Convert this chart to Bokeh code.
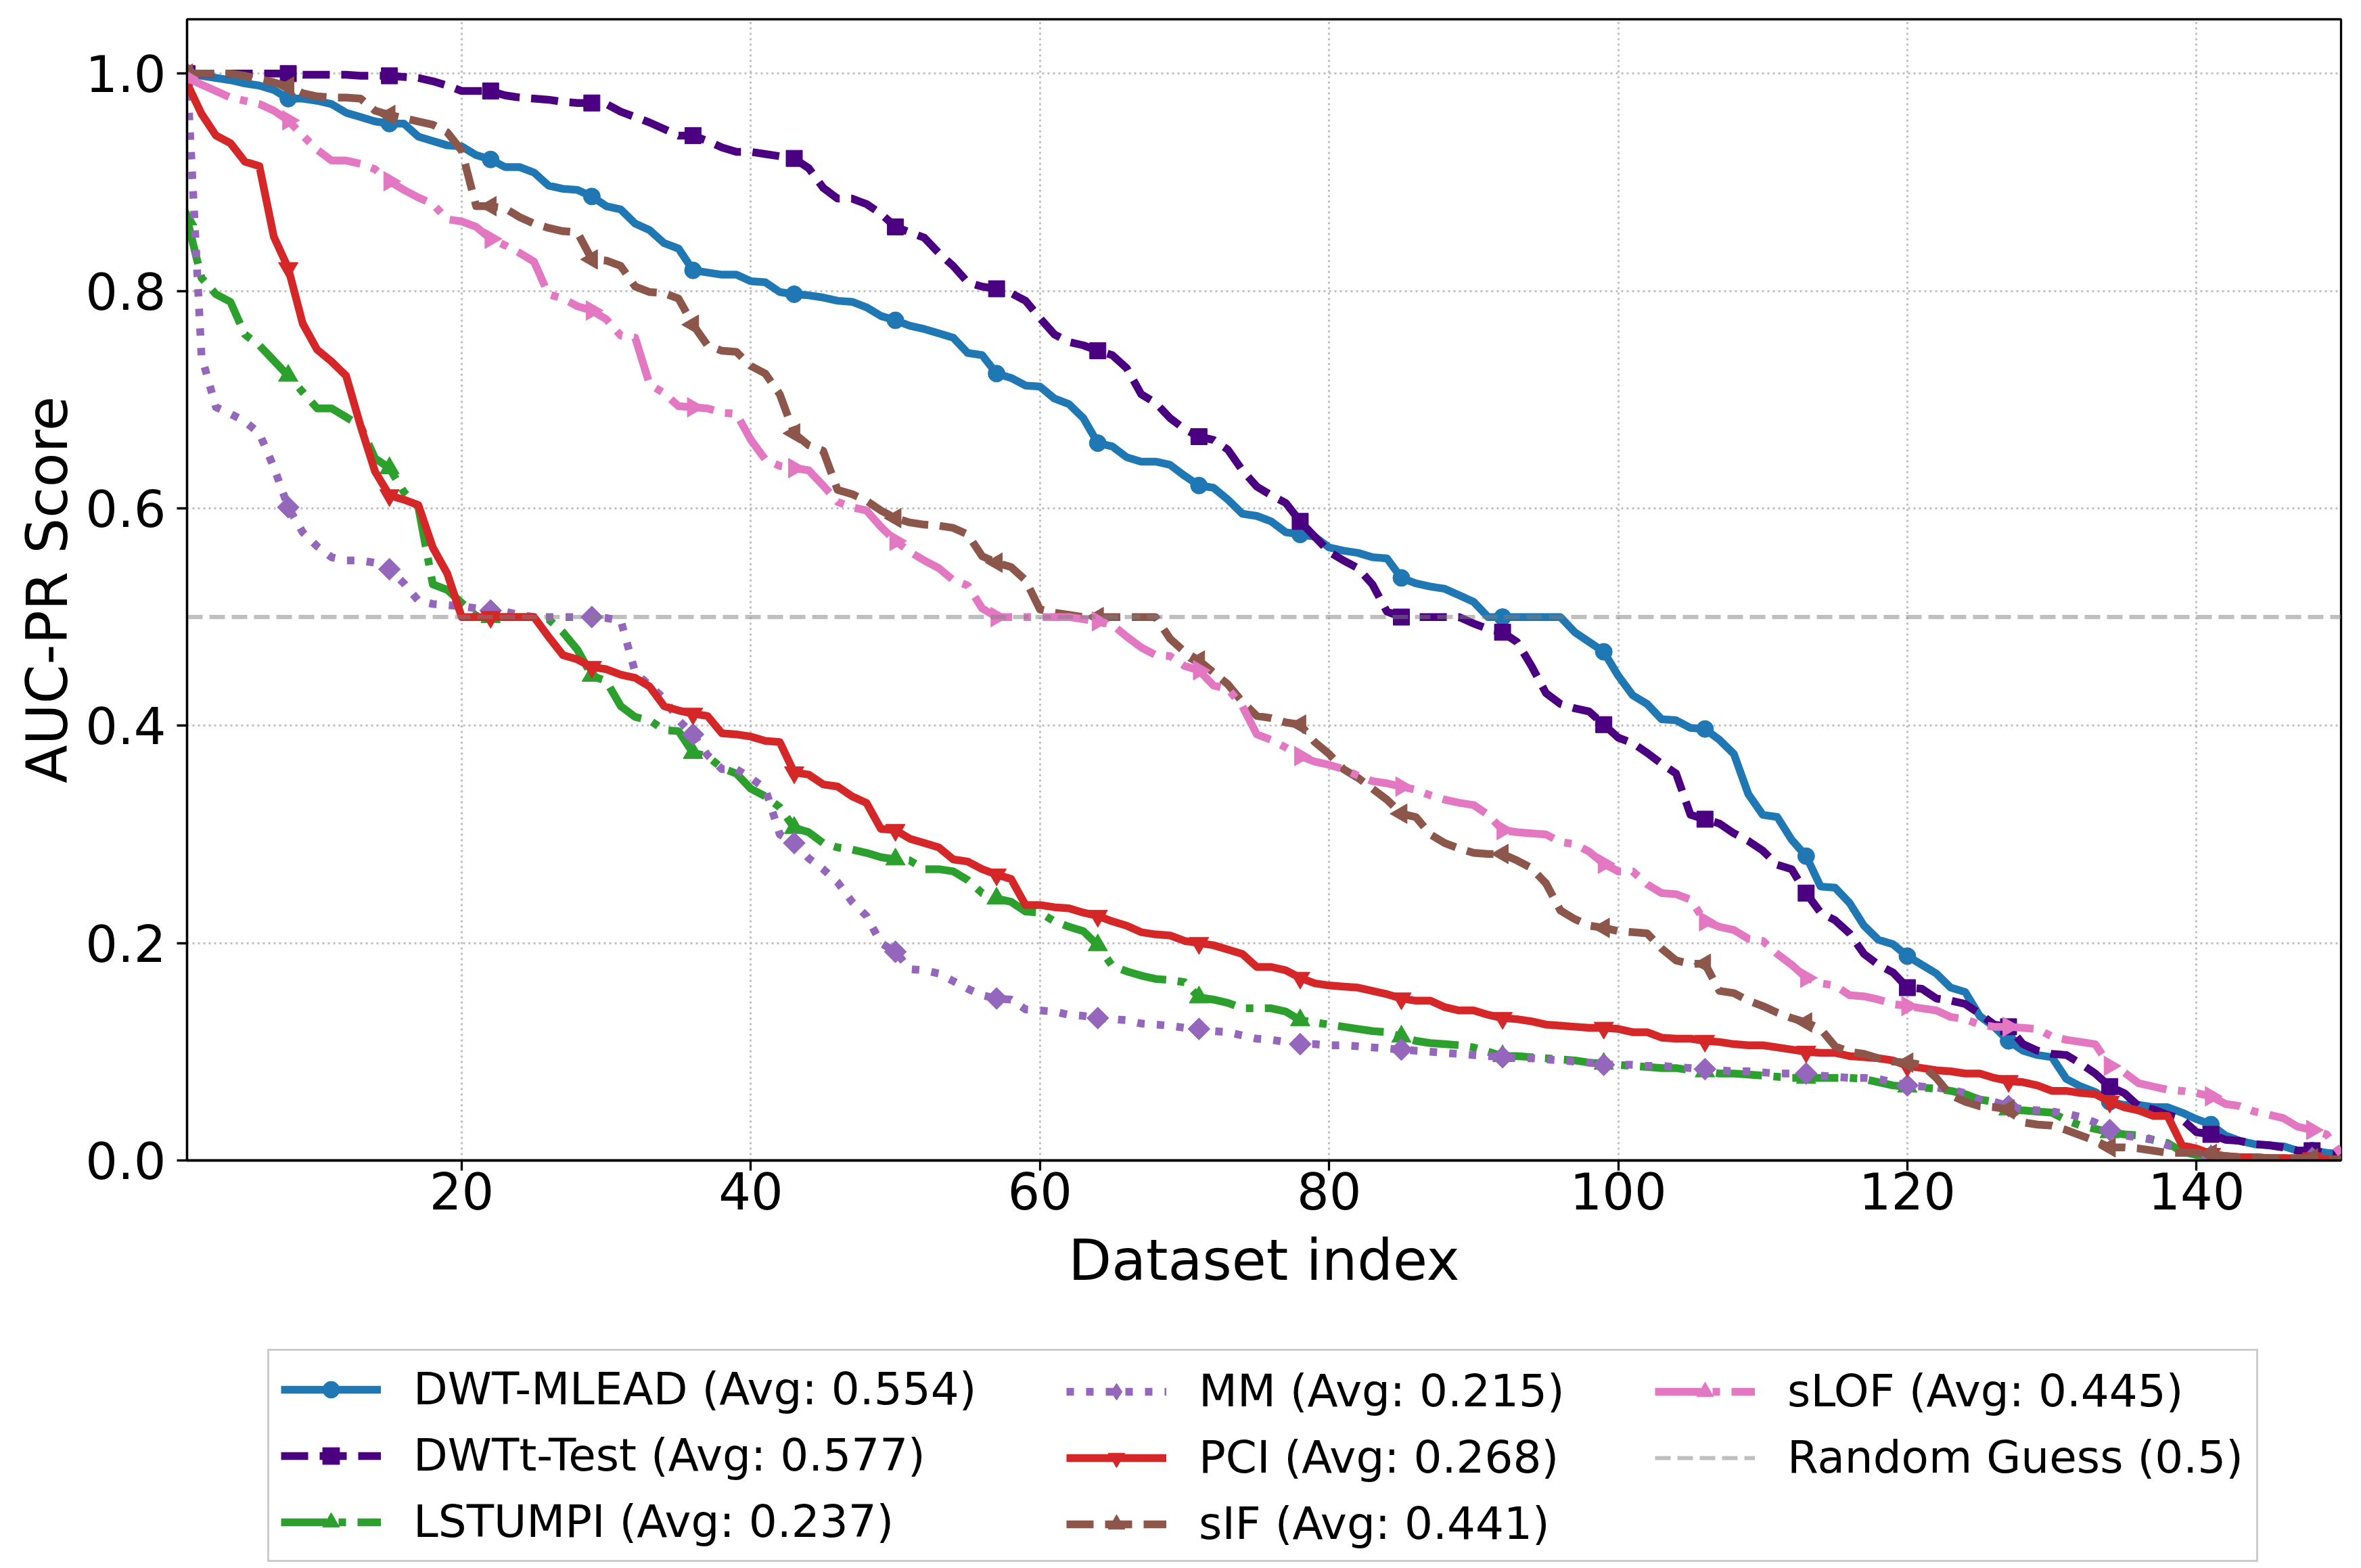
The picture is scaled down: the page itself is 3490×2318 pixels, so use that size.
import math
from bokeh.plotting import figure
from bokeh.layouts import column
from bokeh.models import Range1d, FixedTicker, Legend, LegendItem, NumeralTickFormatter
from bokeh.embed import file_html
from bokeh.resources import INLINE

# ---------------- data ----------------
dataset_index = list(range(1, 151))

dwt_mlead = [
    1.000, 0.998, 0.996, 0.994, 0.991, 0.989, 0.985, 0.977, 0.977, 0.975,
    0.972, 0.964, 0.960, 0.956, 0.954, 0.954, 0.942, 0.938, 0.934, 0.933,
    0.925, 0.921, 0.914, 0.914, 0.909, 0.897, 0.894, 0.893, 0.887, 0.878,
    0.875, 0.862, 0.856, 0.844, 0.839, 0.819, 0.817, 0.815, 0.815, 0.809,
    0.808, 0.799, 0.797, 0.796, 0.794, 0.791, 0.790, 0.785, 0.777, 0.773,
    0.768, 0.765, 0.761, 0.757, 0.743, 0.741, 0.724, 0.720, 0.713, 0.712,
    0.701, 0.696, 0.683, 0.660, 0.657, 0.647, 0.643, 0.643, 0.640, 0.630,
    0.621, 0.619, 0.608, 0.595, 0.593, 0.588, 0.578, 0.576, 0.574, 0.564,
    0.561, 0.559, 0.555, 0.554, 0.536, 0.531, 0.528, 0.526, 0.520, 0.514,
    0.500, 0.500, 0.500, 0.500, 0.500, 0.500, 0.486, 0.477, 0.468, 0.446,
    0.428, 0.420, 0.406, 0.405, 0.398, 0.397, 0.387, 0.374, 0.337, 0.318,
    0.316, 0.295, 0.280, 0.252, 0.251, 0.237, 0.216, 0.203, 0.199, 0.188,
    0.180, 0.172, 0.159, 0.155, 0.133, 0.123, 0.110, 0.101, 0.097, 0.095,
    0.075, 0.068, 0.063, 0.054, 0.051, 0.051, 0.049, 0.049, 0.044, 0.038,
    0.033, 0.023, 0.018, 0.015, 0.014, 0.013, 0.009, 0.009, 0.007, 0.006,
]

dwtt_test = [
    1.000, 1.000, 1.000, 1.000, 1.000, 1.000, 1.000, 1.000, 0.999, 0.999,
    0.999, 0.999, 0.998, 0.998, 0.998, 0.997, 0.996, 0.993, 0.989, 0.984,
    0.984, 0.984, 0.980, 0.978, 0.977, 0.976, 0.974, 0.973, 0.973, 0.972,
    0.965, 0.960, 0.955, 0.949, 0.943, 0.943, 0.938, 0.932, 0.928, 0.928,
    0.926, 0.924, 0.922, 0.913, 0.895, 0.885, 0.885, 0.880, 0.871, 0.859,
    0.854, 0.849, 0.835, 0.823, 0.808, 0.804, 0.802, 0.798, 0.791, 0.775,
    0.760, 0.753, 0.750, 0.745, 0.741, 0.729, 0.705, 0.697, 0.683, 0.673,
    0.666, 0.663, 0.654, 0.635, 0.620, 0.612, 0.605, 0.588, 0.574, 0.560,
    0.552, 0.545, 0.530, 0.505, 0.500, 0.500, 0.500, 0.500, 0.500, 0.494,
    0.489, 0.486, 0.477, 0.455, 0.430, 0.420, 0.416, 0.413, 0.401, 0.389,
    0.384, 0.375, 0.365, 0.356, 0.318, 0.314, 0.310, 0.301, 0.294, 0.285,
    0.272, 0.268, 0.246, 0.228, 0.221, 0.209, 0.190, 0.180, 0.173, 0.159,
    0.158, 0.149, 0.147, 0.144, 0.135, 0.125, 0.123, 0.107, 0.101, 0.098,
    0.097, 0.089, 0.080, 0.068, 0.062, 0.050, 0.047, 0.042, 0.038, 0.026,
    0.024, 0.019, 0.018, 0.015, 0.014, 0.012, 0.009, 0.009, 0.007, 0.006,
]

lstumpi = [
    0.866, 0.812, 0.797, 0.790, 0.760, 0.750, 0.736, 0.722, 0.707, 0.692,
    0.692, 0.684, 0.676, 0.646, 0.637, 0.615, 0.601, 0.530, 0.525, 0.513,
    0.501, 0.500, 0.500, 0.500, 0.500, 0.498, 0.486, 0.470, 0.446, 0.441,
    0.418, 0.408, 0.405, 0.396, 0.395, 0.375, 0.372, 0.361, 0.356, 0.342,
    0.335, 0.325, 0.306, 0.302, 0.292, 0.288, 0.286, 0.283, 0.279, 0.277,
    0.276, 0.268, 0.268, 0.266, 0.258, 0.246, 0.241, 0.238, 0.229, 0.228,
    0.220, 0.215, 0.211, 0.198, 0.179, 0.174, 0.170, 0.167, 0.166, 0.164,
    0.150, 0.148, 0.145, 0.140, 0.140, 0.140, 0.137, 0.129, 0.127, 0.125,
    0.123, 0.121, 0.119, 0.118, 0.114, 0.110, 0.108, 0.107, 0.106, 0.104,
    0.100, 0.096, 0.096, 0.095, 0.094, 0.093, 0.092, 0.090, 0.089, 0.088,
    0.087, 0.086, 0.085, 0.085, 0.083, 0.082, 0.080, 0.080, 0.079, 0.078,
    0.077, 0.076, 0.076, 0.076, 0.076, 0.076, 0.075, 0.072, 0.069, 0.068,
    0.067, 0.066, 0.064, 0.061, 0.056, 0.054, 0.047, 0.046, 0.045, 0.044,
    0.037, 0.032, 0.029, 0.026, 0.024, 0.023, 0.019, 0.016, 0.008, 0.005,
    0.004, 0.003, 0.003, 0.003, 0.002, 0.002, 0.002, 0.002, 0.001, 0.001,
]

mm = [
    1.000, 0.740, 0.693, 0.687, 0.680, 0.669, 0.638, 0.601, 0.578, 0.565,
    0.555, 0.552, 0.552, 0.550, 0.544, 0.531, 0.515, 0.512, 0.511, 0.510,
    0.508, 0.506, 0.505, 0.502, 0.500, 0.500, 0.500, 0.500, 0.500, 0.499,
    0.497, 0.449, 0.437, 0.425, 0.405, 0.392, 0.373, 0.360, 0.360, 0.352,
    0.342, 0.300, 0.292, 0.278, 0.268, 0.256, 0.238, 0.225, 0.200, 0.192,
    0.176, 0.175, 0.172, 0.165, 0.158, 0.152, 0.149, 0.148, 0.139, 0.138,
    0.137, 0.134, 0.133, 0.131, 0.130, 0.129, 0.126, 0.125, 0.124, 0.122,
    0.121, 0.119, 0.118, 0.115, 0.112, 0.111, 0.109, 0.107, 0.107, 0.106,
    0.106, 0.105, 0.104, 0.103, 0.102, 0.101, 0.100, 0.099, 0.098, 0.097,
    0.096, 0.095, 0.094, 0.094, 0.093, 0.092, 0.091, 0.090, 0.088, 0.088,
    0.088, 0.087, 0.087, 0.086, 0.085, 0.084, 0.083, 0.082, 0.082, 0.081,
    0.080, 0.080, 0.080, 0.078, 0.077, 0.076, 0.076, 0.075, 0.072, 0.069,
    0.068, 0.067, 0.065, 0.062, 0.056, 0.054, 0.050, 0.047, 0.046, 0.045,
    0.043, 0.040, 0.035, 0.028, 0.023, 0.021, 0.019, 0.014, 0.010, 0.007,
    0.004, 0.003, 0.003, 0.003, 0.002, 0.002, 0.002, 0.002, 0.001, 0.001,
]

pci = [
    0.991, 0.963, 0.943, 0.936, 0.919, 0.915, 0.850, 0.821, 0.770, 0.746,
    0.735, 0.722, 0.676, 0.634, 0.612, 0.608, 0.603, 0.564, 0.540, 0.500,
    0.500, 0.500, 0.500, 0.500, 0.500, 0.482, 0.465, 0.461, 0.454, 0.452,
    0.447, 0.444, 0.436, 0.418, 0.414, 0.411, 0.409, 0.393, 0.392, 0.390,
    0.386, 0.385, 0.357, 0.355, 0.346, 0.344, 0.335, 0.329, 0.305, 0.304,
    0.296, 0.292, 0.288, 0.277, 0.275, 0.268, 0.263, 0.259, 0.235, 0.235,
    0.233, 0.232, 0.228, 0.225, 0.220, 0.216, 0.210, 0.208, 0.207, 0.202,
    0.200, 0.198, 0.194, 0.190, 0.178, 0.178, 0.175, 0.168, 0.163, 0.161,
    0.160, 0.159, 0.156, 0.153, 0.149, 0.147, 0.147, 0.141, 0.138, 0.138,
    0.134, 0.131, 0.130, 0.128, 0.125, 0.124, 0.123, 0.122, 0.122, 0.121,
    0.118, 0.118, 0.113, 0.112, 0.112, 0.110, 0.109, 0.107, 0.106, 0.106,
    0.104, 0.102, 0.100, 0.099, 0.099, 0.096, 0.095, 0.094, 0.092, 0.087,
    0.085, 0.083, 0.082, 0.080, 0.080, 0.076, 0.073, 0.072, 0.069, 0.064,
    0.064, 0.062, 0.061, 0.054, 0.049, 0.046, 0.041, 0.041, 0.014, 0.011,
    0.006, 0.004, 0.003, 0.003, 0.002, 0.002, 0.002, 0.002, 0.001, 0.001,
]

sif = [
    1.000, 1.000, 1.000, 1.000, 0.998, 0.995, 0.992, 0.988, 0.982, 0.979,
    0.978, 0.978, 0.977, 0.966, 0.962, 0.959, 0.956, 0.953, 0.946, 0.929,
    0.878, 0.878, 0.876, 0.868, 0.862, 0.858, 0.855, 0.854, 0.829, 0.828,
    0.823, 0.804, 0.799, 0.798, 0.793, 0.769, 0.750, 0.745, 0.744, 0.731,
    0.724, 0.705, 0.669, 0.658, 0.653, 0.617, 0.613, 0.607, 0.598, 0.591,
    0.587, 0.585, 0.584, 0.582, 0.576, 0.556, 0.550, 0.546, 0.534, 0.507,
    0.504, 0.502, 0.500, 0.500, 0.500, 0.500, 0.500, 0.500, 0.480, 0.468,
    0.460, 0.449, 0.438, 0.422, 0.409, 0.407, 0.403, 0.401, 0.385, 0.374,
    0.360, 0.352, 0.342, 0.332, 0.319, 0.316, 0.300, 0.292, 0.287, 0.283,
    0.282, 0.282, 0.276, 0.269, 0.255, 0.230, 0.222, 0.216, 0.214, 0.211,
    0.210, 0.209, 0.195, 0.184, 0.181, 0.181, 0.156, 0.154, 0.147, 0.142,
    0.136, 0.131, 0.127, 0.121, 0.105, 0.100, 0.098, 0.094, 0.091, 0.090,
    0.088, 0.076, 0.060, 0.054, 0.050, 0.049, 0.047, 0.035, 0.033, 0.032,
    0.028, 0.023, 0.018, 0.012, 0.012, 0.011, 0.009, 0.007, 0.007, 0.007,
    0.006, 0.004, 0.003, 0.003, 0.002, 0.002, 0.002, 0.002, 0.001, 0.001,
]

slof = [
    0.996, 0.990, 0.984, 0.978, 0.975, 0.972, 0.966, 0.957, 0.943, 0.930,
    0.920, 0.920, 0.917, 0.912, 0.901, 0.893, 0.886, 0.880, 0.866, 0.864,
    0.859, 0.848, 0.842, 0.835, 0.827, 0.797, 0.793, 0.786, 0.782, 0.774,
    0.759, 0.757, 0.714, 0.706, 0.694, 0.693, 0.692, 0.688, 0.687, 0.663,
    0.645, 0.639, 0.637, 0.635, 0.621, 0.606, 0.601, 0.598, 0.583, 0.570,
    0.560, 0.552, 0.545, 0.534, 0.529, 0.508, 0.500, 0.500, 0.500, 0.500,
    0.500, 0.500, 0.498, 0.496, 0.493, 0.482, 0.472, 0.465, 0.464, 0.455,
    0.451, 0.437, 0.434, 0.418, 0.392, 0.387, 0.380, 0.372, 0.367, 0.364,
    0.360, 0.354, 0.349, 0.347, 0.344, 0.341, 0.336, 0.332, 0.329, 0.327,
    0.318, 0.304, 0.302, 0.301, 0.300, 0.293, 0.291, 0.284, 0.273, 0.266,
    0.266, 0.254, 0.246, 0.245, 0.240, 0.220, 0.215, 0.212, 0.204, 0.202,
    0.190, 0.180, 0.168, 0.163, 0.161, 0.152, 0.151, 0.148, 0.144, 0.142,
    0.140, 0.138, 0.132, 0.130, 0.125, 0.123, 0.123, 0.122, 0.121, 0.114,
    0.111, 0.109, 0.107, 0.087, 0.081, 0.071, 0.068, 0.065, 0.064, 0.062,
    0.059, 0.052, 0.050, 0.045, 0.042, 0.039, 0.031, 0.028, 0.024, 0.006,
]

methods = ["DWT-MLEAD", "DWTt-Test", "LSTUMPI", "MM", "PCI", "sIF", "sLOF"]
averages = ["0.554", "0.577", "0.237", "0.215", "0.268", "0.441", "0.445"]
random_guess = 0.5

# ---------------- styles ----------------
LW = 11.5
styles = {
    "DWT-MLEAD": dict(color="#1f77b4", dash="solid", marker="circle", size=25, angle=0.0, leg_marker="circle"),
    "DWTt-Test": dict(color="#4b0082", dash="40 17", marker="square", size=24, angle=0.0, leg_marker="square"),
    "LSTUMPI": dict(color="#2ca02c", dash="68 17 11 17", marker="triangle", size=29, angle=0.0, leg_marker="triangle"),
    "MM": dict(color="#9467bd", dash="11 18", marker="square", size=23, angle=math.pi / 4, leg_marker="diamond"),
    "PCI": dict(color="#d62728", dash="solid", marker="inverted_triangle", size=29, angle=0.0, leg_marker="inverted_triangle"),
    "sIF": dict(color="#8c564b", dash="40 17", marker="triangle", size=29, angle=math.pi / 2, leg_marker="triangle"),
    "sLOF": dict(color="#e377c2", dash="68 17 11 17", marker="triangle", size=29, angle=-math.pi / 2, leg_marker="triangle"),
}
series = [dwt_mlead, dwtt_test, lstumpi, mm, pci, sif, slof]

FONT = "DejaVu Sans"
W = 3490
H_MAIN = 1960
H_LEG = 2318 - H_MAIN
FRAME_LEFT = 276

p = figure(
    width=W, height=H_MAIN, output_backend="svg", toolbar_location=None,
    x_range=Range1d(1, 150), y_range=Range1d(0, 1.05),
    min_border_left=FRAME_LEFT, min_border_right=30, min_border_top=28,
    min_border_bottom=H_MAIN - 1715,
)
p.background_fill_color = "white"
p.border_fill_color = "white"
p.outline_line_color = "black"
p.outline_line_width = 3.3
p.outline_line_alpha = 1.0

xticks = [20, 40, 60, 80, 100, 120, 140]
yticks = [0.0, 0.2, 0.4, 0.6, 0.8, 1.0]
p.xaxis.ticker = FixedTicker(ticks=xticks)
p.yaxis.ticker = FixedTicker(ticks=yticks)
p.yaxis.formatter = NumeralTickFormatter(format="0.0")
p.xgrid.ticker = FixedTicker(ticks=xticks)
p.ygrid.ticker = FixedTicker(ticks=yticks)

for ax in (p.xaxis[0], p.yaxis[0]):
    ax.major_label_text_font = FONT
    ax.major_label_text_font_size = "75px"
    ax.major_label_text_color = "black"
    ax.axis_label_text_font = FONT
    ax.axis_label_text_font_size = "83px"
    ax.axis_label_text_font_style = "normal"
    ax.axis_label_text_color = "black"
    ax.major_tick_out = 15
    ax.major_tick_in = 0
    ax.minor_tick_out = 0
    ax.minor_tick_in = 0
    ax.major_tick_line_width = 3.3
    ax.axis_line_width = 3.3
    ax.axis_line_color = "black"

p.xaxis.axis_label = "Dataset index"
p.yaxis.axis_label = "AUC-PR Score"
p.xaxis.major_label_standoff = 2
p.xaxis.axis_label_standoff = 24
p.yaxis.major_label_standoff = 16
p.yaxis.axis_label_standoff = 4

for g in (p.xgrid[0], p.ygrid[0]):
    g.grid_line_color = "#b0b0b0"
    g.grid_line_alpha = 0.8
    g.grid_line_width = 3
    g.grid_line_dash = "3 5"

for name, ys in zip(methods, series):
    st = styles[name]
    p.line(dataset_index, ys, line_color=st["color"], line_width=LW,
           line_dash=st["dash"], line_join="round")
    p.scatter(dataset_index[::7], ys[::7], marker=st["marker"], size=st["size"],
              angle=st["angle"], fill_color=st["color"], line_color=st["color"],
              line_width=1)

p.line([1, 150], [random_guess, random_guess], line_color="gray", line_alpha=0.5,
       line_width=6.2, line_dash="23 10")

# ---------------- legend strip below the chart ----------------
q = figure(
    width=W, height=H_LEG, output_backend="svg", toolbar_location=None,
    x_range=Range1d(0, 1), y_range=Range1d(0, 1),
    x_axis_location=None, y_axis_location=None,
    min_border_left=FRAME_LEFT, min_border_right=30, min_border_top=0, min_border_bottom=0,
)
q.outline_line_color = None
q.background_fill_color = "white"
q.border_fill_color = "white"
q.xgrid.visible = False
q.ygrid.visible = False

NAN = [float("nan")]  # legend proxies: nothing is drawn in the strip itself
items = []
for name, avg in zip(methods, averages):
    st = styles[name]
    lr = q.line(NAN, NAN, line_color=st["color"], line_width=LW, line_dash=st["dash"],
                line_join="round")
    mr = q.scatter(NAN, NAN, marker=st["leg_marker"], size=st["size"],
                   fill_color=st["color"], line_color=st["color"], line_width=1)
    items.append(LegendItem(label=f"{name} (Avg: {avg})", renderers=[lr, mr]))
rg = q.line(NAN, NAN, line_color="gray", line_alpha=0.5, line_width=6.2, line_dash="23 10")
items.append(LegendItem(label=f"Random Guess ({random_guess})", renderers=[rg]))


def make_legend(its, left_abs, bottom_abs, label_width, framed):
    lg = Legend(items=its, location=(left_abs - FRAME_LEFT, 2318 - bottom_abs))
    lg.label_text_font = FONT
    lg.label_text_font_size = "66px"
    lg.label_text_color = "black"
    lg.label_standoff = 48
    lg.glyph_width = 148
    lg.glyph_height = 62
    lg.label_height = 79
    lg.label_width = label_width
    lg.spacing = 19
    lg.padding = 17
    lg.margin = 0
    if framed:
        lg.border_line_color = "#cccccc"
        lg.border_line_width = 3
        lg.border_line_alpha = 1.0
        lg.background_fill_color = "white"
        lg.background_fill_alpha = 0.8
    else:
        lg.border_line_alpha = 0.0
        lg.background_fill_alpha = 0.0
    return lg


leg1 = make_legend(items[0:3], 395, 2309, 2707, True)
leg2 = make_legend(items[3:6], 1559, 2309, 10, False)
leg3 = make_legend(items[6:8], 2429, 2211, 10, False)
for lg in (leg1, leg2, leg3):
    q.add_layout(lg)

layout = column(p, q, spacing=0)
open("out.html", "w").write(file_html(layout, INLINE))
